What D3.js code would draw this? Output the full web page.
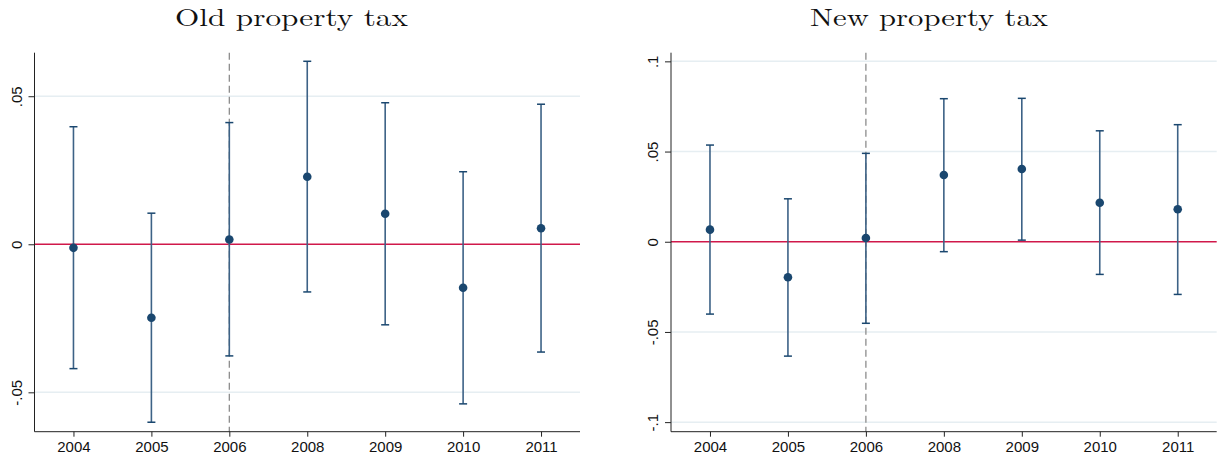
<!DOCTYPE html>
<html><head><meta charset="utf-8">
<script src="https://cdn.jsdelivr.net/npm/d3@7"></script>
<style>body{margin:0;background:#fff}</style>
</head><body><svg id="c" width="1224" height="459"></svg>
<script>
const years = ["2004","2005","2006","2008","2009","2010","2011"];
const oldEst = [-0.0012, -0.0248, 0.0016, 0.0228, 0.0103, -0.0147, 0.0054];
const oldLo  = [-0.0420, -0.0601, -0.0377, -0.0161, -0.0272, -0.0539, -0.0364];
const oldHi  = [0.0397, 0.0105, 0.0411, 0.0618, 0.0478, 0.0245, 0.0473];
const newEst = [0.0067, -0.0197, 0.0021, 0.0370, 0.0403, 0.0216, 0.0180];
const newLo  = [-0.0401, -0.0634, -0.0452, -0.0055, 0.0009, -0.0181, -0.0292];
const newHi  = [0.0536, 0.0238, 0.0490, 0.0793, 0.0795, 0.0615, 0.0649];
const oldTicks = [-0.05, 0, 0.05];
const newTicks = [-0.1, -0.05, 0, 0.05, 0.1];
const oldDomain = [-0.0633, 0.0647];
const newDomain = [-0.1053, 0.1048];
const titles = ["Old property tax", "New property tax"];
const refYear = "2006";

const panels = [
  {title: titles[0], est: oldEst, lo: oldLo, hi: oldHi, ticks: oldTicks, domain: oldDomain, x0: 34.5, x1: 580, tx: 291.5, tw: 233},
  {title: titles[1], est: newEst, lo: newLo, hi: newHi, ticks: newTicks, domain: newDomain, x0: 671, x1: 1216.7, tx: 929, tw: 238}
];
const plotTop = 52.7, plotBottom = 431.7;
const fmt = v => v === 0 ? "0" : (v < 0 ? "-" : "") + String(Math.abs(v)).replace(/^0/, "");
const svg = d3.select("#c");
const navy = "#1a476f", barCol = "#3d6286", redCol = "#d0184a";

panels.forEach(p => {
  const g = svg.append("g");
  const x = d3.scalePoint().domain(years).range([p.x0, p.x1]).padding(0.5);
  const y = d3.scaleLinear().domain(p.domain).range([plotBottom, plotTop]);

  // title (measured, then widened to the reference width)
  const tg = g.append("g");
  const tt = tg.append("text").attr("x", 0).attr("y", 0).attr("text-anchor", "middle")
    .attr("font-family", "'Latin Modern Roman','CMU Serif','Liberation Serif',serif")
    .attr("font-size", 25).attr("fill", "#111")
    .text(p.title);
  const natural = tt.node().getComputedTextLength();
  const sx = p.tw / natural;
  tg.attr("transform", `translate(${p.tx},25.5) scale(${sx},1)`);

  // gridlines
  g.selectAll(".grid").data(p.ticks.filter(t => t !== 0)).join("line")
    .attr("x1", p.x0).attr("x2", p.x1).attr("y1", d => y(d)).attr("y2", d => y(d))
    .attr("stroke", "#e6eef2").attr("stroke-width", 1.5);

  // zero line
  g.append("line").attr("x1", p.x0).attr("x2", p.x1).attr("y1", y(0)).attr("y2", y(0))
    .attr("stroke", redCol).attr("stroke-width", 1.5);

  // dashed reference line
  g.append("line").attr("x1", x(refYear)).attr("x2", x(refYear)).attr("y1", plotTop).attr("y2", plotBottom)
    .attr("stroke", "#8c8c8c").attr("stroke-width", 1.3).attr("stroke-dasharray", "7,4");

  const idx = d3.range(years.length);
  // error bars
  g.selectAll(".bar").data(idx).join("line")
    .attr("x1", i => x(years[i])).attr("x2", i => x(years[i]))
    .attr("y1", i => y(p.lo[i])).attr("y2", i => y(p.hi[i]))
    .attr("stroke", barCol).attr("stroke-width", 1.6);
  ["lo", "hi"].forEach(k => {
    g.selectAll(".cap" + k).data(idx).join("line")
      .attr("x1", i => x(years[i]) - 4).attr("x2", i => x(years[i]) + 4)
      .attr("y1", i => y(p[k][i])).attr("y2", i => y(p[k][i]))
      .attr("stroke", navy).attr("stroke-width", 1.5);
  });
  // points
  g.selectAll(".pt").data(idx).join("circle")
    .attr("cx", i => x(years[i])).attr("cy", i => y(p.est[i])).attr("r", 4.3)
    .attr("fill", navy);

  // y axis
  const ya = g.append("g").attr("transform", `translate(${p.x0},0)`)
    .call(d3.axisLeft(y).tickValues(p.ticks).tickFormat(fmt).tickSize(6).tickSizeOuter(0));
  ya.select(".domain").attr("d", `M0,${plotTop}V${plotBottom}`).attr("stroke", "#222");
  ya.selectAll(".tick line").attr("stroke", "#222");
  ya.selectAll(".tick text").attr("x", 0).attr("dy", 0).attr("y", -13)
    .attr("transform", "rotate(-90)").attr("text-anchor", "middle")
    .attr("font-family", "'Liberation Sans',Arial,sans-serif").attr("font-size", 15).attr("fill", "#111");

  // x axis
  const xa = g.append("g").attr("transform", `translate(0,${plotBottom})`)
    .call(d3.axisBottom(x).tickSize(5).tickSizeOuter(0));
  xa.select(".domain").attr("d", `M${p.x0},0H${p.x1}`).attr("stroke", "#222");
  xa.selectAll(".tick line").attr("stroke", "#222");
  xa.selectAll(".tick text").attr("y", 20.5).attr("dy", 0)
    .attr("font-family", "'Liberation Sans',Arial,sans-serif").attr("font-size", 15).attr("fill", "#111");
});
</script>
</body></html>
